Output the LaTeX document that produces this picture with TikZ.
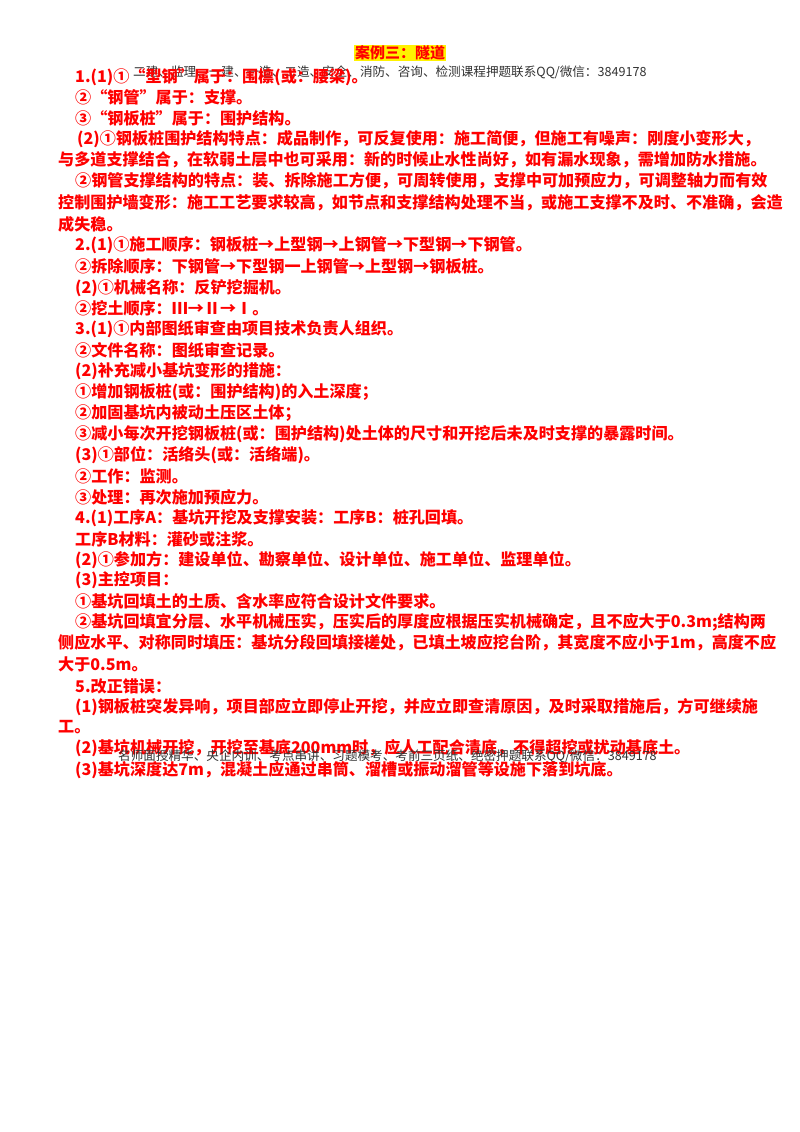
\documentclass[tikz,border=0pt]{standalone}
\usepackage{fontspec}
\setmainfont{Liberation Sans}
\newfontfamily\cjk{Noto Sans CJK SC}
\begin{document}
\begin{tikzpicture}[x=1pt,y=-1pt,
 t/.style={anchor=west,inner sep=0pt,text=red,font=\cjk\bfseries\fontsize{16.1}{18}\selectfont},
 h/.style={anchor=west,inner sep=0pt,text=black!80,font=\cjk\fontsize{12.6}{13}\selectfont}]
\useasboundingbox[fill=white] (0,0) rectangle (800,1132);
\node[fill=yellow,text=red,inner sep=1pt,font=\cjk\bfseries\fontsize{15}{16}\selectfont] (title) at (400,53) {案例三：隧道};
\node[h] (hd1) at (133,72) {二建、监理、一建、一造、二造、安全、消防、咨询、检测课程押题联系QQ/微信：3849178};
\node[t] (l1) at (75,77) {1.(1)①“型钢”属于：围檩(或：腰梁)。};
\node[t] (l2) at (75,97) {②“钢管”属于：支撑。};
\node[t] (l3) at (75,118) {③“钢板桩”属于：围护结构。};
\node[t] (l4) at (77,139) {(2)①钢板桩围护结构特点：成品制作，可反复使用：施工简便，但施工有噪声：刚度小变形大，};
\node[t] (l5) at (58,160) {与多道支撑结合，在软弱土层中也可采用：新的时候止水性尚好，如有漏水现象，需增加防水措施。};
\node[t] (l6) at (75,181) {②钢管支撑结构的特点：装、拆除施工方便，可周转使用，支撑中可加预应力，可调整轴力而有效};
\node[t] (l7) at (58,203) {控制围护墙变形：施工工艺要求较高，如节点和支撑结构处理不当，或施工支撑不及时、不准确，会造};
\node[t] (l8) at (58,224) {成失稳。};
\node[t] (l9) at (75,245) {2.(1)①施工顺序：钢板桩→上型钢→上钢管→下型钢→下钢管。};
\node[t] (l10) at (75,266) {②拆除顺序：下钢管→下型钢一上钢管→上型钢→钢板桩。};
\node[t] (l11) at (75,288) {(2)①机械名称：反铲挖掘机。};
\node[t] (l12) at (75,308) {②挖土顺序：Ⅲ→Ⅱ→Ⅰ。};
\node[t] (l13) at (75,329) {3.(1)①内部图纸审查由项目技术负责人组织。};
\node[t] (l14) at (75,350) {②文件名称：图纸审查记录。};
\node[t] (l15) at (75,371) {(2)补充减小基坑变形的措施：};
\node[t] (l16) at (75,392) {①增加钢板桩(或：围护结构)的入土深度；};
\node[t] (l17) at (75,413) {②加固基坑内被动土压区土体；};
\node[t] (l18) at (75,434) {③减小每次开挖钢板桩(或：围护结构)处土体的尺寸和开挖后未及时支撑的暴露时间。};
\node[t] (l19) at (75,455) {(3)①部位：活络头(或：活络端)。};
\node[t] (l20) at (75,476) {②工作：监测。};
\node[t] (l21) at (75,497) {③处理：再次施加预应力。};
\node[t] (l22) at (75,518) {4.(1)工序A：基坑开挖及支撑安装：工序B：桩孔回填。};
\node[t] (l23) at (75,539) {工序B材料：灌砂或注浆。};
\node[t] (l24) at (75,560) {(2)①参加方：建设单位、勘察单位、设计单位、施工单位、监理单位。};
\node[t] (l25) at (75,580) {(3)主控项目：};
\node[t] (l26) at (75,601) {①基坑回填土的土质、含水率应符合设计文件要求。};
\node[t] (l27) at (75,622) {②基坑回填宜分层、水平机械压实，压实后的厚度应根据压实机械确定，且不应大于0.3m;结构两};
\node[t] (l28) at (58,643) {侧应水平、对称同时填压：基坑分段回填接槎处，已填土坡应挖台阶，其宽度不应小于1m，高度不应};
\node[t] (l29) at (58,664) {大于0.5m。};
\node[t] (l30) at (75,686) {5.改正错误：};
\node[t] (l31) at (75,707) {(1)钢板桩突发异响，项目部应立即停止开挖，并应立即查清原因，及时采取措施后，方可继续施};
\node[t] (l32) at (58,727) {工。};
\node[t] (l33) at (75,748) {(2)基坑机械开挖，开挖至基底200mm时，应人工配合清底，不得超挖或扰动基底土。};
\node[h] (hd2) at (118,756) {名师面授精华、央企内训、考点串讲、习题模考、考前三页纸、绝密押题联系QQ/微信：3849178};
\node[t] (l34) at (75,770) {(3)基坑深度达7m，混凝土应通过串筒、溜槽或振动溜管等设施下落到坑底。};
\end{tikzpicture}
\end{document}
